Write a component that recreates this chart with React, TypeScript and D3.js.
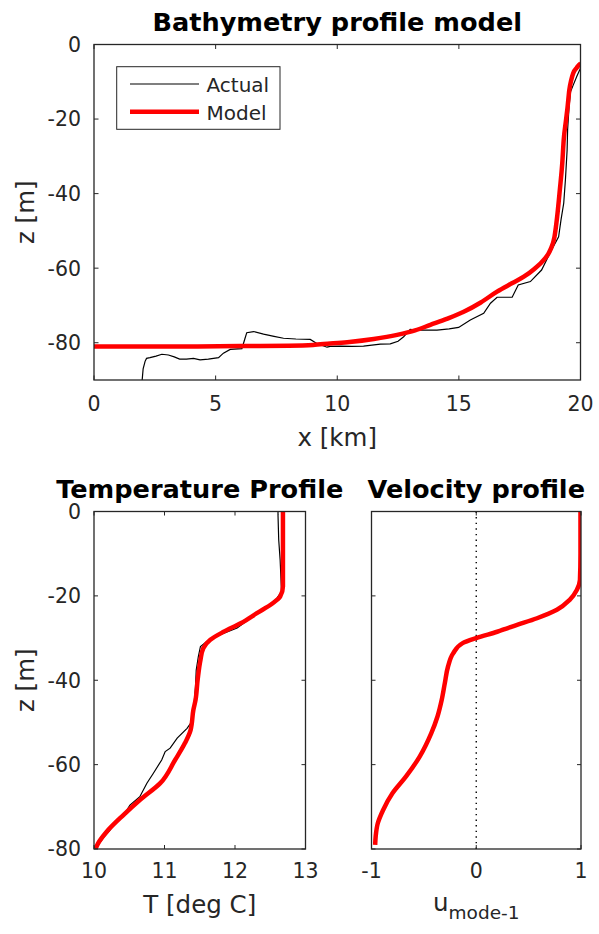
import React from "react";
import * as d3 from "d3";

// ---------- Data ----------
// Bathymetry: actual (x km, z m)
const bathyActualX = [1.98, 2.02, 2.1, 2.16, 2.3, 2.55, 2.79, 3.06, 3.3, 3.52, 3.8, 4.09, 4.36, 4.7, 5.12, 5.32, 5.6, 6.08, 6.2, 6.28, 6.56, 6.97, 7.4, 7.79, 8.3, 8.89, 9.16, 9.58, 9.71, 10.12, 10.6, 11.08, 11.77, 12.18, 12.5, 12.73, 13.0, 13.28, 13.7, 14.1, 14.6, 14.99, 15.47, 16.02, 16.3, 16.57, 16.9, 17.19, 17.44, 17.94, 18.4, 18.81, 19.1, 19.2, 19.31, 19.38, 19.45, 19.47, 19.53, 19.59, 19.7, 19.85, 19.97, 20.02];
const bathyActualZ = [-90, -87, -85, -84.2, -84, -83.6, -83.1, -83.3, -83.8, -84.4, -84.4, -84.2, -84.6, -84.4, -84, -82.8, -81.8, -81.6, -79, -77.3, -77.0, -77.7, -78.3, -78.8, -79.0, -79.1, -80.2, -81.2, -81.0, -80.9, -81.0, -80.9, -80.4, -80.3, -79.6, -78.4, -76.4, -76.6, -76.6, -76.6, -76.3, -75.9, -73.9, -72.1, -69.4, -67.8, -67.8, -67.8, -64.5, -63.6, -60.5, -55.1, -51.6, -47, -42.6, -36.3, -28.3, -22.9, -16.7, -12.7, -10.9, -8.5, -6.8, -6.0];
// Bathymetry: model
const bathyModelX = [0, 2, 4, 6, 8, 9, 9.71, 10.5, 11.5, 12.46, 13.2, 13.83, 14.5, 15.2, 15.9, 16.57, 17.2, 17.67, 18.1, 18.49, 18.76, 18.93, 19.04, 19.15, 19.25, 19.31, 19.4, 19.47, 19.54, 19.62, 19.7, 19.85, 19.97, 20.0];
const bathyModelZ = [-81, -81, -81, -80.9, -80.8, -80.6, -80.2, -79.8, -79.0, -77.9, -76.7, -75.2, -73.6, -71.7, -69.2, -66.3, -64.0, -62.3, -60.2, -57.8, -55.1, -51.6, -46.2, -39, -31.9, -25.6, -20.5, -16.7, -12.2, -9.5, -7.7, -6.2, -5.3, -5.2];

// Temperature profile: actual (T deg C, z m)
const tempActualT = [12.61, 12.61, 12.62, 12.64, 12.66, 12.6, 12.55, 12.41, 12.22, 12.03, 11.79, 11.6, 11.51, 11.48, 11.45, 11.44, 11.42, 11.39, 11.37, 11.32, 11.18, 11.08, 11.01, 10.96, 10.84, 10.75, 10.65, 10.51, 10.44, 10.27, 10.23, 10.14, 10.06, 10.02];
const tempActualZ = [0, -0.8, -6.7, -11.4, -19, -20.4, -21.4, -23.3, -25.3, -27.6, -29.2, -30.8, -32, -34.4, -37.6, -41.5, -45.5, -48.5, -50.2, -51.4, -53.7, -56.1, -56.9, -58.9, -62.1, -64.4, -67.6, -69.6, -71.5, -74.3, -75.5, -77.2, -79.0, -80];
// Temperature profile: model
const tempModelT = [12.68, 12.68, 12.68, 12.64, 12.53, 12.31, 12.08, 11.84, 11.65, 11.55, 11.51, 11.47, 11.44, 11.41, 11.37, 11.29, 11.15, 10.94, 10.65, 10.42, 10.18, 10.06, 10.02];
const tempModelZ = [0, -10, -17.8, -20.2, -21.8, -24.1, -26.5, -28.5, -30.4, -32.4, -35.2, -39.9, -44.7, -47.0, -51.8, -54.9, -58.9, -64.4, -68.4, -71.9, -75.9, -78.6, -80];

// Velocity profile: model (u mode-1, z m)
const velU = [0.995, 0.995, 0.99, 0.96, 0.89, 0.77, 0.58, 0.39, 0.2, 0.0, -0.13, -0.22, -0.27, -0.3, -0.33, -0.37, -0.43, -0.54, -0.67, -0.8, -0.89, -0.94, -0.96, -0.965];
const velZ = [0, -10, -16.2, -18.6, -21, -23.3, -25.3, -26.9, -28.5, -30.0, -31.2, -33.6, -36.8, -40.7, -44.7, -48.6, -52.6, -58.1, -62.8, -66.8, -70.8, -73.9, -77, -79];

// Ticks
const bathyXTicks = [0, 5, 10, 15, 20];
const depthTicks = [0, -20, -40, -60, -80];
const tempTicks = [10, 11, 12, 13];
const velTicks = [-1, 0, 1];

// ---------- Styles ----------
const FONT = "DejaVu Sans, sans-serif";
const AX = "#262626";
const TICK_FS = 20.5;
const LABEL_FS = 24.5;
const TITLE_FS = 25.6;

type Pt = [number, number];

function Frame({ x0, x1, y0, y1, xs, ys, xTicks, yTicks, tickLen, xLabOff }: any) {
  return (
    <g>
      <rect x={x0} y={y0} width={x1 - x0} height={y1 - y0} fill="none" stroke={AX} strokeWidth={1.3} />
      {xTicks.map((t: number) => (
        <g key={"xt" + t}>
          <line x1={xs(t)} x2={xs(t)} y1={y1} y2={y1 - tickLen} stroke={AX} strokeWidth={1} />
          <line x1={xs(t)} x2={xs(t)} y1={y0} y2={y0 + tickLen} stroke={AX} strokeWidth={1} />
        </g>
      ))}
      {yTicks.map((t: number) => (
        <g key={"yt" + t}>
          <line x1={x0} x2={x0 + tickLen} y1={ys(t)} y2={ys(t)} stroke={AX} strokeWidth={1} />
          <line x1={x1} x2={x1 - tickLen} y1={ys(t)} y2={ys(t)} stroke={AX} strokeWidth={1} />
        </g>
      ))}
      {xTicks.map((t: number) => (
        <text key={"xl" + t} x={xs(t)} y={y1 + xLabOff} textAnchor="middle" fontFamily={FONT} fontSize={TICK_FS} fill={AX}>
          {String(t)}
        </text>
      ))}
      {yTicks.map((t: number) => (
        <text key={"yl" + t} x={x0 - 13} y={ys(t)} dy="0.36em" textAnchor="end" fontFamily={FONT} fontSize={TICK_FS} fill={AX}>
          {String(t)}
        </text>
      ))}
    </g>
  );
}

export default function App() {
  // Top panel
  const T = { x0: 94, x1: 580.5, y0: 44.5, y1: 380 };
  const bx = d3.scaleLinear().domain([0, 20]).range([T.x0, T.x1]);
  const bz = d3.scaleLinear().domain([-90, 0]).range([T.y1, T.y0]);

  // Bottom panels
  const L = { x0: 94, x1: 305.5, y0: 511.5, y1: 849 };
  const R = { x0: 371.5, x1: 581, y0: 511.5, y1: 849 };
  const tx = d3.scaleLinear().domain([10, 13]).range([L.x0, L.x1]);
  const tz = d3.scaleLinear().domain([-80, 0]).range([L.y1, L.y0]);
  const ux = d3.scaleLinear().domain([-1, 1]).range([R.x0, R.x1]);
  const uz = d3.scaleLinear().domain([-80, 0]).range([R.y1, R.y0]);

  const zip = (a: number[], b: number[]): Pt[] => a.map((v, i) => [v, b[i]]);

  const bathyActualPath = d3.line<Pt>().x((d) => bx(d[0])).y((d) => bz(d[1]))(zip(bathyActualX, bathyActualZ)) || "";
  const bathyModelPath = d3.line<Pt>().x((d) => bx(d[0])).y((d) => bz(d[1])).curve(d3.curveMonotoneX)(zip(bathyModelX, bathyModelZ)) || "";
  const tempActualPath = d3.line<Pt>().x((d) => tx(d[0])).y((d) => tz(d[1]))(zip(tempActualT, tempActualZ)) || "";
  const tempModelPath = d3.line<Pt>().x((d) => tx(d[0])).y((d) => tz(d[1])).curve(d3.curveMonotoneY)(zip(tempModelT, tempModelZ)) || "";
  const velPath = d3.line<Pt>().x((d) => ux(d[0])).y((d) => uz(d[1])).curve(d3.curveMonotoneY)(zip(velU, velZ)) || "";

  return (
    <svg width={599} height={934} style={{ position: "absolute", left: 0, top: 0, background: "#fff" }}>
      <defs>
        <clipPath id="clipTop"><rect x={T.x0} y={T.y0} width={T.x1 - T.x0} height={T.y1 - T.y0} /></clipPath>
        <clipPath id="clipL"><rect x={L.x0} y={L.y0} width={L.x1 - L.x0} height={L.y1 - L.y0} /></clipPath>
        <clipPath id="clipR"><rect x={R.x0} y={R.y0} width={R.x1 - R.x0} height={R.y1 - R.y0} /></clipPath>
      </defs>
      <rect x={0} y={0} width={599} height={934} fill="#fff" />

      {/* ---------- Top panel ---------- */}
      <g clipPath="url(#clipTop)">
        <path d={bathyActualPath} fill="none" stroke="#000" strokeWidth={1.2} />
        <path d={bathyModelPath} fill="none" stroke="#ff0000" strokeWidth={4.5} strokeLinejoin="round" />
      </g>
      <Frame {...T} xs={bx} ys={bz} xTicks={bathyXTicks} yTicks={depthTicks} tickLen={4.5} xLabOff={30.5} />
      <text x={(T.x0 + T.x1) / 2} y={30.5} textAnchor="middle" fontFamily={FONT} fontSize={TITLE_FS} fontWeight="bold" fill="#000">
        Bathymetry profile model
      </text>
      <text x={(T.x0 + T.x1) / 2} y={446} textAnchor="middle" fontFamily={FONT} fontSize={LABEL_FS} fill={AX}>
        x [km]
      </text>
      <text transform={`translate(34,${(T.y0 + T.y1) / 2}) rotate(-90)`} textAnchor="middle" fontFamily={FONT} fontSize={LABEL_FS} fill={AX}>
        z [m]
      </text>
      {/* Legend */}
      <g>
        <rect x={116.7} y={66.7} width={163.3} height={62.6} fill="#fff" stroke={AX} strokeWidth={1} />
        <line x1={130} x2={199} y1={84} y2={84} stroke="#000" strokeWidth={1.2} />
        <line x1={130} x2={199} y1={111.7} y2={111.7} stroke="#ff0000" strokeWidth={4.5} />
        <text x={206.5} y={92.3} fontFamily={FONT} fontSize={20} fill={AX}>Actual</text>
        <text x={206.5} y={120} fontFamily={FONT} fontSize={20} fill={AX}>Model</text>
      </g>

      {/* ---------- Bottom-left panel ---------- */}
      <g clipPath="url(#clipL)">
        <path d={tempActualPath} fill="none" stroke="#000" strokeWidth={1.2} />
        <path d={tempModelPath} fill="none" stroke="#ff0000" strokeWidth={4.5} strokeLinejoin="round" />
      </g>
      <Frame {...L} xs={tx} ys={tz} xTicks={tempTicks} yTicks={depthTicks} tickLen={4} xLabOff={28.5} />
      <text x={(L.x0 + L.x1) / 2} y={498} textAnchor="middle" fontFamily={FONT} fontSize={TITLE_FS} fontWeight="bold" fill="#000">
        Temperature Profile
      </text>
      <text x={(L.x0 + L.x1) / 2} y={913} textAnchor="middle" fontFamily={FONT} fontSize={LABEL_FS} fill={AX}>
        T [deg C]
      </text>
      <text transform={`translate(34,${(L.y0 + L.y1) / 2}) rotate(-90)`} textAnchor="middle" fontFamily={FONT} fontSize={LABEL_FS} fill={AX}>
        z [m]
      </text>

      {/* ---------- Bottom-right panel ---------- */}
      <line x1={ux(0)} x2={ux(0)} y1={R.y0} y2={R.y1} stroke="#000" strokeWidth={1.4} strokeDasharray="1.4 4.2" />
      <g clipPath="url(#clipR)">
        <path d={velPath} fill="none" stroke="#ff0000" strokeWidth={4.5} strokeLinejoin="round" />
      </g>
      <Frame {...R} xs={ux} ys={uz} xTicks={velTicks} yTicks={[]} tickLen={4} xLabOff={28.5} />
      {depthTicks.map((t) => (
        <g key={"ryt" + t}>
          <line x1={R.x0} x2={R.x0 + 4} y1={uz(t)} y2={uz(t)} stroke={AX} strokeWidth={1} />
          <line x1={R.x1} x2={R.x1 - 4} y1={uz(t)} y2={uz(t)} stroke={AX} strokeWidth={1} />
        </g>
      ))}
      <text x={(R.x0 + R.x1) / 2} y={498} textAnchor="middle" fontFamily={FONT} fontSize={TITLE_FS} fontWeight="bold" fill="#000">
        Velocity profile
      </text>
      <text x={(R.x0 + R.x1) / 2} y={911} textAnchor="middle" fontFamily={FONT} fontSize={LABEL_FS} fill={AX}>
        u
        <tspan fontSize={18.5} dy={8}>mode-1</tspan>
      </text>
    </svg>
  );
}
